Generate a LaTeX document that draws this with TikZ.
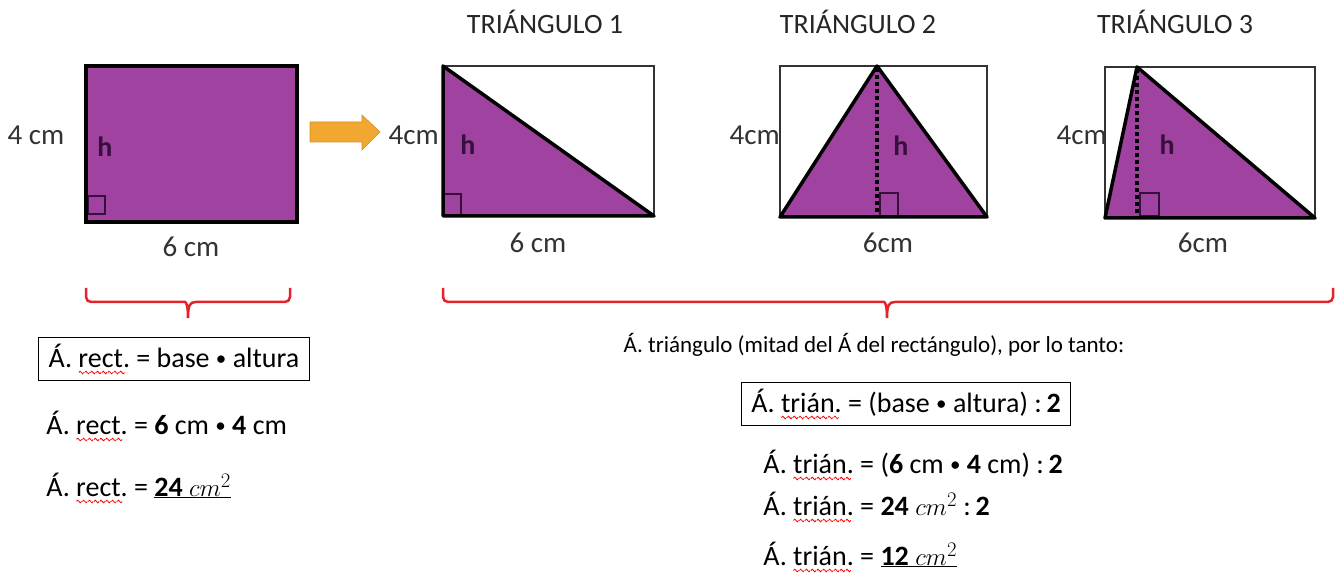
\documentclass[tikz,border=0pt]{standalone}
\usepackage{fontspec}
\setmainfont{Carlito}
\usetikzlibrary{decorations.pathreplacing, positioning}
\definecolor{figpurple}{RGB}{160,66,160}
\definecolor{markpurple}{RGB}{55,15,60}
\definecolor{arroworange}{RGB}{242,168,48}
\definecolor{bracered}{RGB}{228,34,42}
% marca ondulada roja (corrector ortografico)
\newcommand{\wavebit}{\begin{pgfpicture}\pgfsetlinewidth{0.8pt}\pgfsetstrokecolor{red}%
    \pgfpathmoveto{\pgfpointorigin}\pgfpathsine{\pgfpoint{1.25pt}{1.3pt}}\pgfpathcosine{\pgfpoint{1.25pt}{-1.3pt}}%
    \pgfpathsine{\pgfpoint{1.25pt}{-1.3pt}}\pgfpathcosine{\pgfpoint{1.25pt}{1.3pt}}\pgfusepath{stroke}\end{pgfpicture}}
\newcommand{\spellmark}[1]{\setbox0\hbox{#1}\rlap{\raisebox{-7pt}{\hbox to \wd0{\leaders\hbox{\wavebit}\hfill}}}#1}
\newcommand{\dotop}{\raisebox{1.5pt}{\fontsize{21}{21}\selectfont •}}

\begin{document}
\begin{tikzpicture}[x=1pt, y=-1pt,
        dimlabel/.style={font=\fontsize{29}{32}\selectfont, text=black!80, inner sep=1pt},
        titlelabel/.style={font=\fontsize{28}{30}\selectfont, text=black!85, inner sep=1pt},
        formula/.style={font=\fontsize{28}{31}\selectfont\frenchspacing, inner sep=2pt},
        note/.style={font=\fontsize{23}{26}\selectfont\frenchspacing, inner sep=2pt},
        formulabox/.style={formula, draw, line width=1.2pt, inner xsep=10pt, inner ysep=6pt},
        hmark/.style={font=\fontsize{28}{30}\selectfont\bfseries, text=markpurple, inner sep=0pt},
        frame/.style={draw=black!80, line width=1.3pt},
        side/.style={line width=3.5pt, line join=round},
        heightline/.style={line width=4.5pt, dash pattern=on 4pt off 3pt},
        corner/.style={draw=markpurple, line width=1.3pt},
        bracket/.style={draw=bracered, line width=2.5pt}
    ]
        \useasboundingbox (0,0) rectangle (1341,577);

        % --- RECTANGULO ---
        \fill[figpurple] (86,66) rectangle (297,222);
        \draw[corner] (88,196) rectangle (105,214);
        \draw[line width=4.5pt] (86,66) rectangle (297,222);
        \node[dimlabel] (rectH) at (36,135) {4 cm};
        \node[dimlabel] (rectB) at (191,247) {6 cm};
        \node[hmark] (rectHm) at (105,147) {h};

        % flecha naranja
        \draw[fill=arroworange, draw=arroworange!85!black, line width=0.6pt]
            (310,122) -- (362,122) -- (362,115) -- (380,132) -- (362,150) -- (362,142) -- (310,142) -- cycle;

        % --- TRIANGULO 1 ---
        \node[titlelabel] (titleA) at (545,22) {TRIÁNGULO 1};
        \draw[frame] (443,66) rectangle (654,216);
        \fill[figpurple] (443,66) -- (443,216) -- (654,216) -- cycle;
        \draw[corner] (444,194) rectangle (461,215);
        \draw[side] (443,216) -- (443,66) -- (654,216) -- cycle;
        \node[dimlabel, anchor=east] (triAH) at (440,135) {4cm};
        \node[dimlabel] (triAB) at (538,243) {6 cm};
        \node[hmark] (triAHm) at (468,145) {h};

        % --- TRIANGULO 2 ---
        \node[titlelabel] (titleB) at (858,22) {TRIÁNGULO 2};
        \draw[frame] (780,66) rectangle (987,217);
        \fill[figpurple] (780,217) -- (877,66) -- (987,217) -- cycle;
        \draw[corner] (880,193) rectangle (898,216);
        \draw[heightline] (877,68) -- (877,216);
        \draw[side] (780,217) -- (877,66) -- (987,217) -- cycle;
        \node[dimlabel, anchor=east] (triBH) at (781,135) {4cm};
        \node[dimlabel] (triBB) at (888,243) {6cm};
        \node[hmark] (triBHm) at (901,146) {h};

        % --- TRIANGULO 3 ---
        \node[titlelabel] (titleC) at (1175,22) {TRIÁNGULO 3};
        \draw[frame] (1105,67) rectangle (1315,218);
        \fill[figpurple] (1105,218) -- (1137,67) -- (1315,218) -- cycle;
        \draw[corner] (1140,193) rectangle (1159,216);
        \draw[heightline] (1137,69) -- (1137,217);
        \draw[side] (1105,218) -- (1137,67) -- (1315,218) -- cycle;
        \node[dimlabel, anchor=east] (triCH) at (1108,135) {4cm};
        \node[dimlabel] (triCB) at (1203,243) {6cm};
        \node[hmark] (triCHm) at (1167,145) {h};

        % llaves
        \draw[bracket] (86,288) [rounded corners=5pt] -- (86,302) -- (180,302) [sharp corners]
            .. controls (186,302) and (188,305) .. (188,318)
            .. controls (188,305) and (190,302) .. (196,302) [rounded corners=5pt] -- (290,302) -- (290,288);
        \draw[bracket] (443,288) [rounded corners=5pt] -- (443,302) -- (879,302) [sharp corners]
            .. controls (885,302) and (887,305) .. (887,318)
            .. controls (887,305) and (889,302) .. (895,302) [rounded corners=5pt] -- (1333,302) -- (1333,288);

        % --- AREA RECTANGULO ---
        \node[formulabox] (rectRule) at (174,359) {Á. \spellmark{rect.} = base \dotop\ altura};
        \node[formula, anchor=west] (rectCalc) at (44,426) {Á. \spellmark{rect.} = \textbf{6} cm \dotop\ \textbf{4} cm};
        \node[formula, anchor=west] (rectRes) at (44,488) {Á. \spellmark{rect.} = \underline{\textbf{24} $cm^2$}};

        % --- AREA TRIANGULO ---
        \node[note] (triNote) at (874,345) {Á. triángulo (mitad del Á del rectángulo), por lo tanto:};
        \node[formulabox] (triRule) at (906,404) {Á. \spellmark{trián.} = (base \dotop\ altura) :\,\textbf{2}};
        \node[formula, anchor=west] (triCalc) at (761,465) {Á. \spellmark{trián.} = (\textbf{6} cm \dotop\ \textbf{4} cm) :\,\textbf{2}};
        \node[formula, anchor=west] (triHalf) at (761,507) {Á. \spellmark{trián.} = \textbf{24} $cm^2$ :\,\textbf{2}};
        \node[formula, anchor=west] (triRes) at (761,557) {Á. \spellmark{trián.} = \underline{\textbf{12} $cm^2$}};
    \end{tikzpicture}
\end{document}
